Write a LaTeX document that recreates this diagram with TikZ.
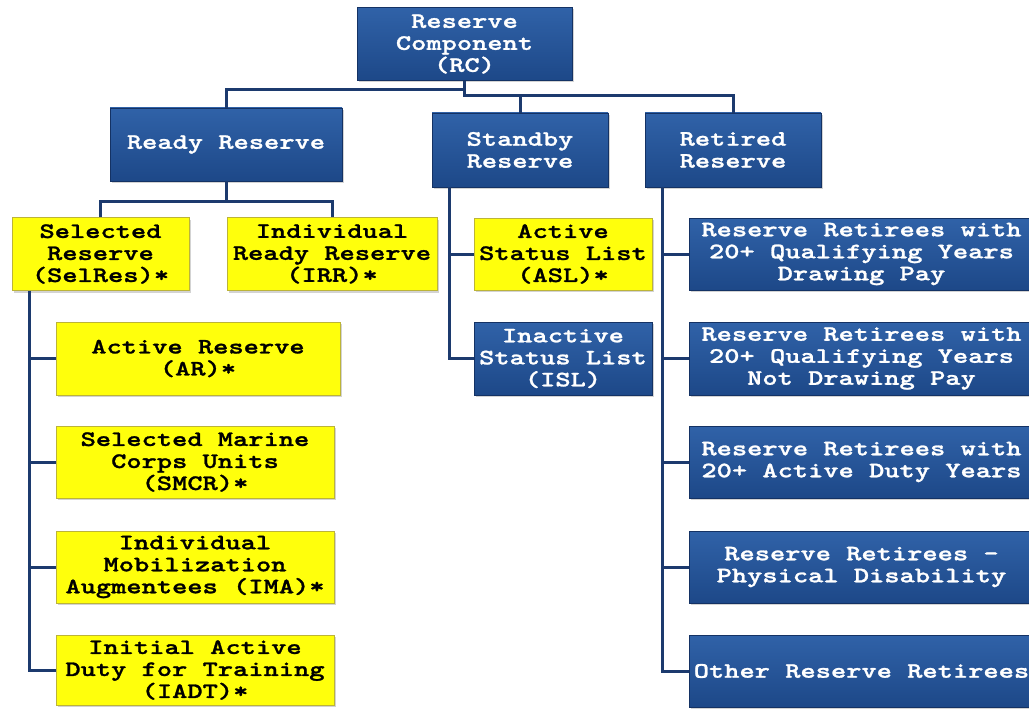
\documentclass[tikz,border=0pt]{standalone}
\usepackage{fontspec}
\newfontfamily\boxfont[Extension=.otf, FakeStretch=1.32, FakeBold=1.2]{lmmonolt10-bold}
\usepackage{tikz}
\usetikzlibrary{shadows}
\definecolor{navyfill}{RGB}{29,72,136}
\definecolor{navytop}{RGB}{48,98,168}
\definecolor{navyedge}{RGB}{20,50,100}
\definecolor{linkblue}{RGB}{28,58,110}
\definecolor{boxyellow}{RGB}{255,255,12}

\begin{document}
\begin{tikzpicture}[x=1pt, y=-1pt,
    bluebox/.style={rectangle, draw=navyedge, top color=navytop, bottom color=navyfill, text=white, align=center, inner sep=0pt,
        font=\boxfont\fontsize{22}{22}\selectfont, drop shadow={shadow xshift=2pt, shadow yshift=-2pt, opacity=0.35}},
    yellowbox/.style={bluebox, top color=boxyellow, bottom color=boxyellow, draw=yellow!70!black, text=black},
    link/.style={draw=linkblue, line width=3pt}]
        \useasboundingbox (0,0) rectangle (1029,709);
        \node[bluebox, minimum width=215pt, minimum height=73pt] (rc) at (464.5,44) {Reserve\\Component\\(RC)};
        \node[bluebox, minimum width=232pt, minimum height=73pt] (ready) at (226,144.5) {Ready Reserve};
        \node[bluebox, minimum width=176pt, minimum height=74pt] (standby) at (520,150) {Standby\\Reserve};
        \node[bluebox, minimum width=176pt, minimum height=74pt] (retired) at (733,150) {Retired\\Reserve};
        \node[yellowbox, minimum width=177pt, minimum height=73pt] (selres) at (100.5,254) {Selected\\Reserve\\(SelRes)*};
        \node[yellowbox, minimum width=210pt, minimum height=73pt] (irr) at (332,254) {Individual\\Ready Reserve\\(IRR)*};
        \node[yellowbox, minimum width=284pt, minimum height=73pt] (ar) at (198,358.5) {Active Reserve\\(AR)*};
        \node[yellowbox, minimum width=278pt, minimum height=72pt] (smcr) at (195,462) {Selected Marine\\Corps Units\\(SMCR)*};
        \node[yellowbox, minimum width=278pt, minimum height=72pt] (ima) at (195,567) {Individual\\Mobilization\\Augmentees (IMA)*};
        \node[yellowbox, minimum width=278pt, minimum height=70pt] (iadt) at (195,670) {Initial Active\\Duty for Training\\(IADT)*};
        \node[yellowbox, minimum width=178pt, minimum height=72pt] (asl) at (563,254) {Active\\Status List\\(ASL)*};
        \node[bluebox, minimum width=178pt, minimum height=73pt] (isl) at (563,358.5) {Inactive\\Status List\\(ISL)};
        \node[bluebox, minimum width=345pt, minimum height=72pt] (ret1) at (861.5,254) {Reserve Retirees with\\20+ Qualifying Years\\Drawing Pay};
        \node[bluebox, minimum width=345pt, minimum height=73pt] (ret2) at (861.5,358.5) {Reserve Retirees with\\20+ Qualifying Years\\Not Drawing Pay};
        \node[bluebox, minimum width=345pt, minimum height=72pt] (ret3) at (861.5,462) {Reserve Retirees with\\20+ Active Duty Years};
        \node[bluebox, minimum width=345pt, minimum height=72pt] (ret4) at (861.5,567) {Reserve Retirees –\\Physical Disability};
        \node[bluebox, minimum width=345pt, minimum height=72pt] (ret5) at (861.5,671) {Other Reserve Retirees};
        \draw[link] (rc.south) -- ++(0,9) coordinate (rcj);
        \draw[link] (rcj) -| (ready.north);
        \draw[link] (rcj) -- ++(0,6) -| (retired.north);
        \draw[link] (standby.north) -- ++(0,-17.5);
        \draw[link] (ready.south) -- ++(0,20) coordinate (rrj);
        \draw[link] (selres.north) |- (rrj) -| (irr.north);
        \coordinate (srt) at (29,290.5);
        \coordinate (sbt) at (449,187);
        \coordinate (rtt) at (662,187);
        \draw[link] (srt) |- (iadt.west);
        \foreach \n in {ar,smcr,ima}
            \draw[link] (srt |- \n.west) -- (\n.west);
        \draw[link] (sbt) |- (isl.west);
        \draw[link] (sbt |- asl.west) -- (asl.west);
        \draw[link] (rtt) |- (ret5.west);
        \foreach \n in {ret1,ret2,ret3,ret4}
            \draw[link] (rtt |- \n.west) -- (\n.west);
    \end{tikzpicture}
\end{document}
